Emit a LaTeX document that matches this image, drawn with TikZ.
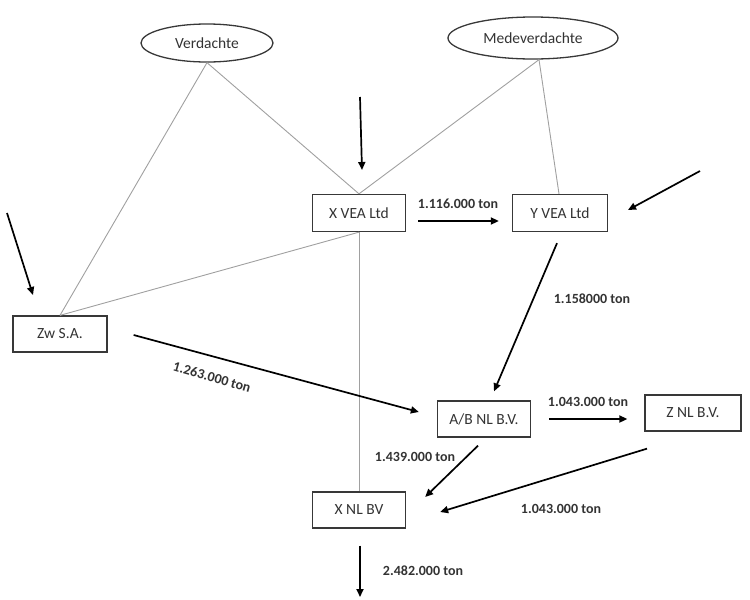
\documentclass[tikz,border=0pt]{standalone}
\usepackage{fontspec}
\setmainfont{Carlito}
\usetikzlibrary{arrows.meta,shapes.geometric,calc}
\definecolor{txt}{HTML}{333333}
\definecolor{frame}{HTML}{383838}
\definecolor{link}{HTML}{A0A0A0}
\begin{document}
\begin{tikzpicture}[x=1pt,y=-1pt,
  firm/.style={draw=frame,line width=1.3pt,rectangle,minimum width=93pt,minimum height=37pt,inner sep=0pt,text=txt,font=\fontsize{15.5}{17}\selectfont},
  party/.style={draw=frame,line width=1.3pt,ellipse,inner sep=0pt,text=txt,font=\fontsize{15.5}{17}\selectfont},
  tie/.style={draw=link,line width=0.9pt},
  flow/.style={draw=black,line width=1.7pt,-{Triangle[length=8pt,width=7pt]}},
  amount/.style={font=\bfseries\fontsize{14}{16}\selectfont,text=txt,inner sep=0pt}]
\useasboundingbox (0,0) rectangle (750,600);
% nodes
\node[party,minimum width=132pt,minimum height=38pt] (verd) at (207,43) {Verdachte};
\node[party,minimum width=170pt,minimum height=42pt] (medev) at (533,38) {Medeverdachte};
\node[firm] (xvea) at (359,213) {X VEA Ltd};
\node[firm,minimum width=95pt] (yvea) at (560,213) {Y VEA Ltd};
\node[firm,minimum width=94pt,minimum height=36pt] (zw) at (60,334) {Zw S.A.};
\node[firm,minimum height=36pt] (ab) at (484,419) {A/B NL B.V.};
\node[firm,minimum width=96pt,minimum height=36pt] (znl) at (693,413) {Z NL B.V.};
\node[firm,minimum height=36pt] (xnl) at (359,510) {X NL BV};
% free ends
\coordinate (a1s) at (360,97);  \coordinate (a1e) at (362,170);
\coordinate (a2s) at (7,213);   \coordinate (a2e) at (33,295);
\coordinate (a3s) at (700,171); \coordinate (a3e) at (628,210);
\coordinate (outend) at (360,597);
% grey ties
\draw[tie] (verd.south) -- (zw.north);
\draw[tie] (verd.south) -- (xvea.north);
\draw[tie] ([xshift=6pt]medev.south) -- (xvea.north);
\draw[tie] ([xshift=6pt]medev.south) -- ([xshift=-1pt]yvea.north);
\draw[tie] (zw.north) -- (xvea.south);
\draw[tie] (xvea.south) -- (xnl.north);
% flows
\draw[flow] (a1s) -- (a1e);
\draw[flow] (a2s) -- (a2e);
\draw[flow] (a3s) -- (a3e);
\draw[flow] ($(xvea.east)+(12,8)$) -- ($(yvea.west)+(-13,8)$);
\draw[flow] ($(yvea.south)+(-3,11)$) -- ($(ab.north)+(10,-9)$);
\draw[flow] ($(zw.east)+(26,1)$) -- ($(ab.west)+(-18,-7)$);
\draw[flow] ($(ab.east)+(18,0)$) -- ($(znl.west)+(-17,6)$);
\draw[flow] ($(ab.south)+(-6,8)$) -- ($(xnl.east)+(19,-13)$);
\draw[flow] ($(znl.south)+(-46,17)$) -- ($(xnl.east)+(34,2)$);
\draw[flow] ($(xnl.south)+(1,17)$) -- (outend);
% amounts
\node[amount] (l1) at (458,204) {1.116.000 ton};
\node[amount] (l2) at (592,299) {1.158000 ton};
\node[amount,rotate=-16] (l3) at (212,377) {1.263.000 ton};
\node[amount] (l4) at (588,402) {1.043.000 ton};
\node[amount] (l5) at (415,457) {1.439.000 ton};
\node[amount] (l6) at (561,509) {1.043.000 ton};
\node[amount] (l7) at (423,571) {2.482.000 ton};
\end{tikzpicture}
\end{document}
